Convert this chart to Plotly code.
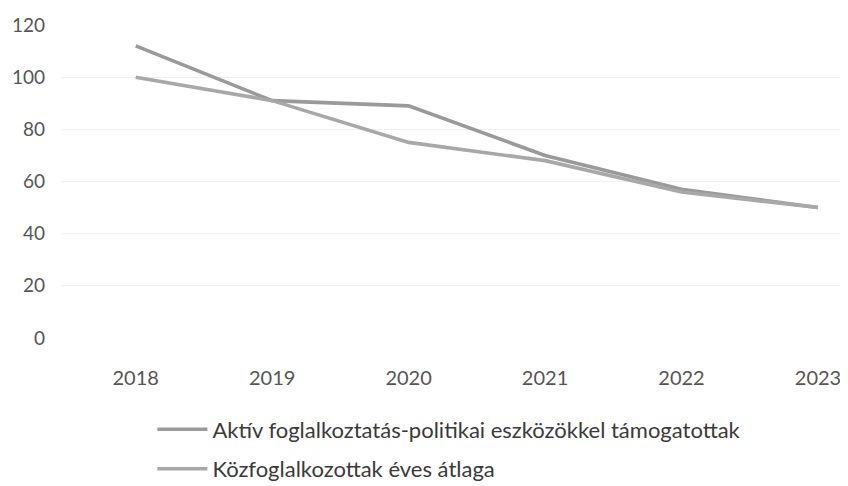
import plotly.graph_objects as go

years = ["2018", "2019", "2020", "2021", "2022", "2023"]
aktiv = [112, 91, 89, 70, 57, 50]
kozfogl = [100, 91, 75, 68, 56, 50]
series_names = [
    "Aktív foglalkoztatás-politikai eszközökkel támogatottak",
    "Közfoglalkozottak éves átlaga",
]
y_ticks = [0, 20, 40, 60, 80, 100, 120]

fig = go.Figure()
fig.add_trace(go.Scatter(x=years, y=aktiv, mode="lines", name=series_names[0],
                         legendgroup="a",
                         line=dict(color="#9a9a9a", width=3.6)))
fig.add_trace(go.Scatter(x=years, y=kozfogl, mode="lines", name=series_names[1],
                         legendgroup="b",
                         line=dict(color="#a8a8a8", width=3.6)))

fig.update_layout(
    width=840, height=478,
    margin=dict(l=54, r=0, t=17, b=148, autoexpand=False),
    paper_bgcolor="white", plot_bgcolor="white",
    font=dict(family="Lato, Noto Sans, sans-serif", color="#4a4a4a", size=19),
    showlegend=True,
    legend=dict(orientation="v", x=0.115, xanchor="left", y=-0.225, yanchor="top",
                font=dict(size=22, color="#3a3a3a"), tracegroupgap=8,
                itemwidth=50, bgcolor="rgba(0,0,0,0)"),
    xaxis=dict(type="category", range=[-0.54, 5.22], showgrid=False, zeroline=False,
               showline=False, ticks="", ticklabelstandoff=26, automargin=False,
               tickfont=dict(size=20, color="#555555")),
    yaxis=dict(range=[0, 120], tickvals=y_ticks, showgrid=True, gridcolor="#efefef",
               gridwidth=1, zeroline=False, showline=False, ticks="", automargin=False,
               ticklabelstandoff=16, tickfont=dict(size=19, color="#555555")),
)

fig.write_html("out.html")
